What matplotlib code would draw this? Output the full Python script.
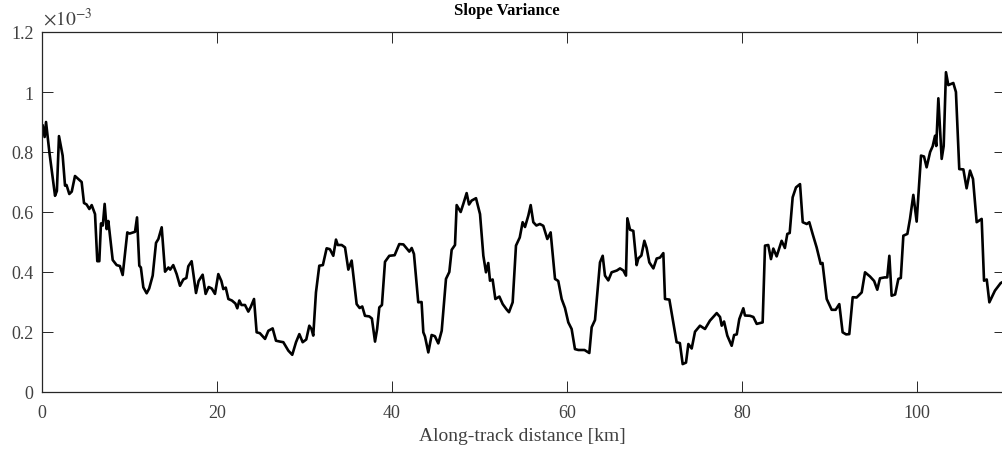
import numpy as np
import matplotlib
matplotlib.use('Agg')
import matplotlib.pyplot as plt
from matplotlib.ticker import FuncFormatter

# along-track distance [km] and slope variance [x 1e-3]
dist = [0.08, 0.3, 0.46, 0.84, 1.49, 1.7, 1.94, 2.36, 2.63, 2.8, 3.12, 3.4, 3.77, 4.15, 4.53, 4.8, 5.1,
        5.41, 5.68, 6.06, 6.32, 6.55, 6.74, 6.95, 7.16, 7.39, 7.58, 8.08, 8.53, 8.9, 9.22, 9.75, 10.0,
        10.63, 10.86, 11.12, 11.3, 11.58, 11.96, 12.25, 12.65, 13.03, 13.3, 13.68, 14.06, 14.45, 14.65,
        15.0, 15.39, 15.77, 16.15, 16.5, 16.72, 17.1, 17.49, 17.6, 17.9, 18.36, 18.7, 19.05, 19.4,
        19.77, 20.15, 20.5, 20.72, 21.0, 21.3, 21.7, 22.1, 22.32, 22.55, 22.8, 23.2, 23.58, 23.85,
        24.23, 24.53, 24.9, 25.49, 25.87, 26.36, 26.74, 27.2, 27.58, 28.15, 28.6, 29.03, 29.41, 29.79,
        30.2, 30.55, 30.8, 31.0, 31.31, 31.69, 32.1, 32.53, 32.9, 33.29, 33.6, 33.8, 34.25, 34.63,
        35.01, 35.39, 35.96, 36.3, 36.6, 36.91, 37.4, 37.7, 38.06, 38.3, 38.55, 38.85, 39.2, 39.69,
        40.3, 40.83, 41.3, 41.67, 41.98, 42.25, 42.51, 43.0, 43.38, 43.58, 43.77, 44.15, 44.53, 44.9,
        45.29, 45.68, 46.17, 46.55, 46.82, 47.2, 47.39, 47.85, 48.15, 48.53, 48.8, 49.1, 49.6, 50.06,
        50.44, 50.74, 51.0, 51.2, 51.5, 51.81, 52.27, 52.65, 53.1, 53.37, 53.79, 54.17, 54.6, 54.93,
        55.2, 55.58, 55.85, 56.15, 56.5, 56.9, 57.29, 57.75, 58.13, 58.63, 59.0, 59.39, 59.77, 60.15,
        60.53, 60.91, 61.3, 62.0, 62.55, 62.82, 63.2, 63.47, 63.77, 64.08, 64.34, 64.72, 65.1, 65.7,
        66.06, 66.44, 66.74, 66.9, 67.2, 67.58, 67.96, 68.15, 68.5, 68.84, 69.1, 69.41, 69.87, 70.25,
        70.63, 71.01, 71.2, 71.7, 72.15, 72.53, 72.9, 73.22, 73.6, 73.87, 74.25, 74.63, 75.2, 75.77,
        76.34, 77.11, 77.49, 77.68, 77.95, 78.32, 78.82, 79.1, 79.4, 79.69, 80.15, 80.34, 80.91, 81.3,
        81.68, 82.36, 82.63, 83.0, 83.31, 83.58, 83.96, 84.53, 84.9, 85.18, 85.45, 85.79, 86.17,
        86.63, 86.94, 87.4, 87.69, 88.07, 88.53, 88.99, 89.2, 89.68, 90.25, 90.7, 91.12, 91.5, 91.9,
        92.26, 92.65, 93.1, 93.68, 94.06, 94.63, 95.1, 95.46, 95.77, 96.3, 96.6, 96.84, 97.1, 97.5,
        97.87, 98.15, 98.44, 98.9, 99.2, 99.58, 99.96, 100.46, 100.8, 101.1, 101.5, 101.79, 102.06,
        102.2, 102.44, 102.82, 103.05, 103.31, 103.58, 104.15, 104.45, 104.83, 105.3, 105.67, 106.06,
        106.4, 106.82, 107.39, 107.66, 107.97, 108.27, 108.91, 109.56, 110.0]
svar = [0.888, 0.85, 0.90, 0.80, 0.654, 0.67, 0.853, 0.788, 0.688, 0.69, 0.66, 0.668, 0.72, 0.71, 0.70,
        0.63, 0.625, 0.61, 0.623, 0.593, 0.436, 0.436, 0.562, 0.555, 0.627, 0.543, 0.57, 0.44, 0.423,
        0.42, 0.39, 0.532, 0.528, 0.534, 0.582, 0.421, 0.415, 0.349, 0.329, 0.345, 0.388, 0.497, 0.51,
        0.549, 0.401, 0.415, 0.408, 0.423, 0.393, 0.354, 0.375, 0.38, 0.419, 0.436, 0.354, 0.33, 0.37,
        0.391, 0.327, 0.35, 0.345, 0.327, 0.393, 0.37, 0.343, 0.348, 0.31, 0.305, 0.295, 0.279, 0.305,
        0.29, 0.29, 0.268, 0.283, 0.31, 0.199, 0.196, 0.177, 0.204, 0.212, 0.171, 0.168, 0.166, 0.138,
        0.124, 0.166, 0.193, 0.166, 0.175, 0.221, 0.21, 0.188, 0.332, 0.421, 0.423, 0.479, 0.476,
        0.454, 0.508, 0.49, 0.49, 0.482, 0.408, 0.438, 0.293, 0.28, 0.285, 0.254, 0.252, 0.245, 0.168,
        0.21, 0.282, 0.29, 0.434, 0.454, 0.456, 0.493, 0.492, 0.479, 0.468, 0.48, 0.46, 0.299, 0.3,
        0.199, 0.185, 0.132, 0.19, 0.186, 0.162, 0.204, 0.377, 0.4, 0.474, 0.49, 0.623, 0.6, 0.627,
        0.663, 0.625, 0.638, 0.646, 0.593, 0.454, 0.399, 0.43, 0.371, 0.375, 0.31, 0.318, 0.293, 0.275,
        0.266, 0.299, 0.488, 0.515, 0.566, 0.55, 0.588, 0.623, 0.566, 0.555, 0.56, 0.554, 0.51, 0.532,
        0.377, 0.37, 0.31, 0.28, 0.232, 0.21, 0.143, 0.14, 0.14, 0.13, 0.216, 0.24, 0.332, 0.432, 0.454,
        0.388, 0.372, 0.399, 0.405, 0.412, 0.405, 0.388, 0.579, 0.541, 0.537, 0.423, 0.445, 0.455,
        0.504, 0.48, 0.432, 0.412, 0.445, 0.448, 0.463, 0.31, 0.308, 0.232, 0.166, 0.163, 0.093, 0.098,
        0.16, 0.145, 0.201, 0.221, 0.21, 0.238, 0.263, 0.25, 0.221, 0.235, 0.188, 0.154, 0.19, 0.192,
        0.243, 0.279, 0.255, 0.254, 0.25, 0.227, 0.232, 0.488, 0.49, 0.443, 0.478, 0.452, 0.504, 0.48,
        0.527, 0.53, 0.649, 0.682, 0.693, 0.566, 0.56, 0.566, 0.527, 0.482, 0.427, 0.43, 0.31, 0.274,
        0.274, 0.293, 0.199, 0.192, 0.193, 0.316, 0.315, 0.332, 0.399, 0.385, 0.37, 0.341, 0.379,
        0.382, 0.382, 0.454, 0.321, 0.325, 0.377, 0.38, 0.521, 0.527, 0.577, 0.657, 0.568, 0.788,
        0.785, 0.749, 0.8, 0.819, 0.854, 0.82, 0.979, 0.777, 0.82, 1.066, 1.023, 1.03, 1.0, 0.743,
        0.742, 0.679, 0.738, 0.71, 0.566, 0.577, 0.371, 0.375, 0.299, 0.338, 0.363, 0.37]

plt.rcParams['font.family'] = ['Liberation Serif', 'DejaVu Serif']
plt.rcParams['mathtext.fontset'] = 'stix'

W, H = 1002, 452
fig = plt.figure(figsize=(W / 100, H / 100), dpi=100)
# axes box placed to match the reference (right edge runs just past the image)
ax = fig.add_axes([42 / W, 59 / H, 962.5 / W, 360 / H])

ax.plot(dist, svar, color='black', lw=1.9)

ax.set_xlim(0, 110)
ax.set_ylim(0, 1.2)
ax.set_xticks(np.arange(0, 101, 20))
ax.set_yticks(np.arange(0, 1.21, 0.2))
ax.yaxis.set_major_formatter(FuncFormatter(lambda v, p: '%g' % round(v, 1)))

gray = '#262626'
lab = '#404040'
for s in ax.spines.values():
    s.set_color(gray)
    s.set_linewidth(0.9)
ax.tick_params(direction='in', length=8, width=0.7, colors=gray, labelcolor=lab,
               labelsize=13, top=True, right=True)
ax.tick_params(axis='x', pad=9)
ax.tick_params(axis='y', pad=6)

fig.text(507 / W, 1 - 11 / H, 'Slope Variance', ha='center', va='center',
         fontsize=12, fontweight='bold', color='black')
fig.text(522 / W, 15 / H, 'Along-track distance [km]', ha='center', va='center',
         fontsize=14, color=lab)
fig.text(43 / W, 1 - 19 / H, r'$\times10^{-3}$', ha='left', va='center',
         fontsize=14, color=lab)

fig.savefig('out.png', dpi=100)
